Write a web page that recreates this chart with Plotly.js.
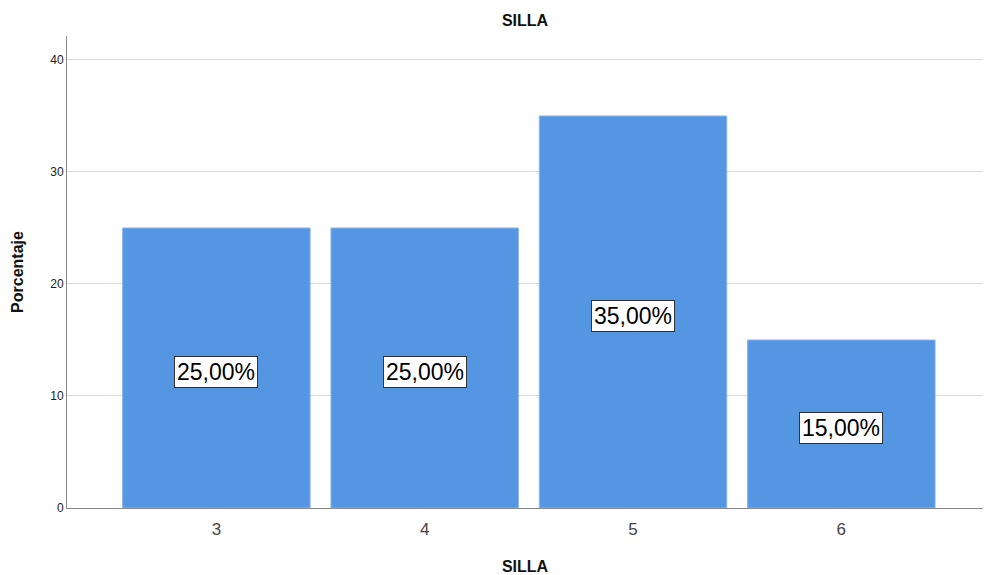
<!DOCTYPE html>
<html>
<head>
<meta charset="utf-8">
<script src="https://cdn.plot.ly/plotly-3.0.1.min.js"></script>
<style>html,body{margin:0;padding:0;background:#fff;}#chart{width:984px;height:575px;}</style>
</head>
<body>
<div id="chart"></div>
<script>
const categories = ["3", "4", "5", "6"];
const percentages = [25, 25, 35, 15];
const labels = ["25,00%", "25,00%", "35,00%", "15,00%"];
const yTicks = [0, 10, 20, 30, 40];

const trace = {
  type: "bar",
  x: categories,
  y: percentages,
  width: 0.9,
  marker: { color: "#5596e3", line: { color: "#8db6ec", width: 1 } },
  hoverinfo: "none"
};

// category axes read numeric-looking strings as indices, so place by index
const annotations = categories.map((c, i) => ({
  x: i,
  y: percentages[i] / 2,
  xref: "x",
  yref: "y",
  yshift: -4,
  text: labels[i],
  showarrow: false,
  font: { family: "Liberation Sans, Arial, sans-serif", size: 23, color: "#000" },
  bgcolor: "#ffffff",
  bordercolor: "#333333",
  borderwidth: 1,
  borderpad: 2
}));

const layout = {
  width: 984,
  height: 575,
  margin: { l: 67, r: 1, t: 36, b: 67 },
  paper_bgcolor: "#ffffff",
  plot_bgcolor: "#ffffff",
  showlegend: false,
  title: {
    text: "<b>SILLA</b>",
    font: { family: "Liberation Sans, Arial, sans-serif", size: 16, color: "#111" },
    x: 0.5, xref: "paper", y: 0.965, yref: "container", yanchor: "middle"
  },
  xaxis: {
    type: "category",
    range: [-0.717, 3.68],
    showgrid: false,
    zeroline: false,
    showline: true,
    linecolor: "#888888",
    linewidth: 1,
    ticks: "",
    ticklabelstandoff: 6,
    tickfont: { family: "Liberation Sans, Arial, sans-serif", size: 17, color: "#444" },
    title: { text: "<b>SILLA</b>", font: { family: "Liberation Sans, Arial, sans-serif", size: 16, color: "#111" }, standoff: 28 }
  },
  yaxis: {
    range: [0, 42.14],
    tickvals: yTicks,
    ticktext: yTicks.map(String),
    showgrid: true,
    gridcolor: "#d9d9d9",
    gridwidth: 1,
    zeroline: false,
    showline: true,
    linecolor: "#888888",
    linewidth: 1,
    ticks: "",
    tickfont: { family: "Liberation Sans, Arial, sans-serif", size: 12, color: "#222" },
    title: { text: "<b>Porcentaje</b>", font: { family: "Liberation Sans, Arial, sans-serif", size: 16, color: "#111" }, standoff: 22 }
  },
  annotations: annotations
};

Plotly.newPlot("chart", [trace], layout, { displayModeBar: false, staticPlot: true });
</script>
</body>
</html>
